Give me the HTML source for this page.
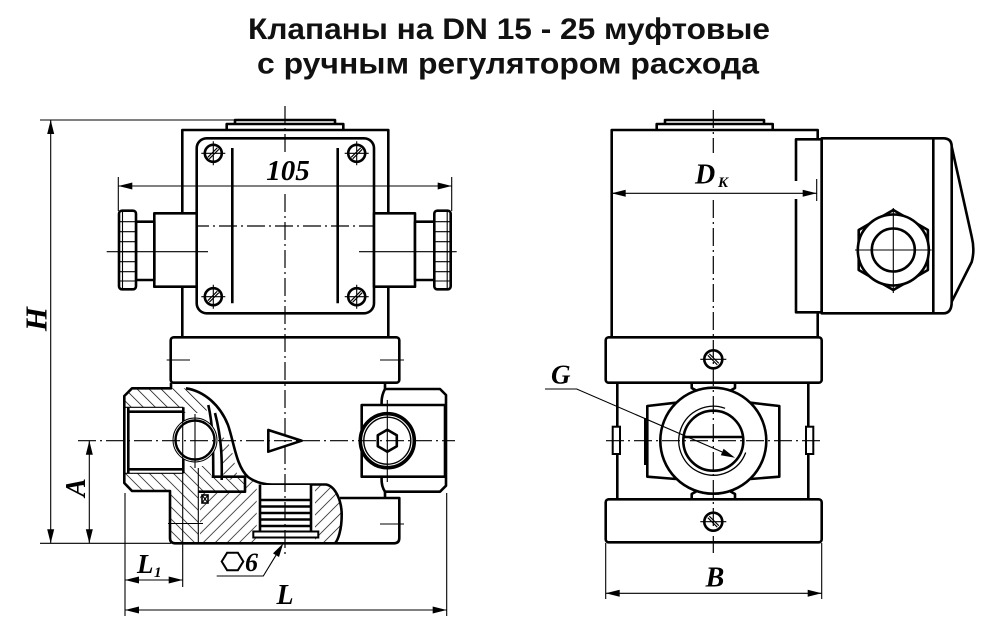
<!DOCTYPE html>
<html><head><meta charset="utf-8">
<style>
html,body{margin:0;padding:0;background:#fff;}
svg{display:block;}
.t{fill:none;stroke:#000;stroke-width:2.6;stroke-linejoin:round;}
.w{fill:#fff;stroke:#000;stroke-width:2.6;stroke-linejoin:round;}
.n{fill:none;stroke:#000;stroke-width:1.1;}
.c{fill:none;stroke:#000;stroke-width:1.2;stroke-dasharray:18 4 2 4;}
.a{fill:#000;stroke:none;}
.lbl{font-family:"Liberation Serif",serif;font-style:italic;font-weight:bold;fill:#000;}
.ttl{font-family:"Liberation Sans","Noto Sans CJK SC",sans-serif;font-weight:bold;font-size:30px;fill:#111;}
</style></head><body>
<svg width="1000" height="633" viewBox="0 0 1000 633" xmlns="http://www.w3.org/2000/svg">
<defs>
<pattern id="hs" width="8.5" height="8.5" patternUnits="userSpaceOnUse" patternTransform="rotate(-45)"><line x1="0" y1="0" x2="0" y2="8.5" stroke="#000" stroke-width="1.4"/></pattern>
<pattern id="hf" width="8.5" height="8.5" patternUnits="userSpaceOnUse" patternTransform="rotate(45)"><line x1="0" y1="0" x2="0" y2="8.5" stroke="#000" stroke-width="1.4"/></pattern>
</defs>
<rect width="1000" height="633" fill="#fff"/>

<!-- Title -->
<text class="ttl" x="248" y="39" textLength="522" lengthAdjust="spacingAndGlyphs">Клапаны на DN 15 - 25 муфтовые</text>
<text class="ttl" x="257" y="73.5" textLength="502" lengthAdjust="spacingAndGlyphs">с ручным регулятором расхода</text>

<!-- ============ LEFT VIEW ============ -->
<rect class="t" x="182.3" y="130" width="206" height="207.3"/>
<path class="t" d="M226.7,130 V124 H343.3 V130"/>
<path class="t" d="M235,124 V120 H335 V124"/>
<rect class="t" x="196.7" y="138.3" width="177.3" height="175" rx="10"/>
<line class="t" x1="232.3" y1="148" x2="232.3" y2="303.3"/>
<line class="t" x1="337.7" y1="148" x2="337.7" y2="303.3"/>
<line class="c" x1="191" y1="226" x2="379" y2="226"/>

<g>
<circle class="t" cx="213.3" cy="153.3" r="8.5" stroke-width="2.4"/>
<path class="n" stroke-width="1.5" d="M207.8,157.3 L217.3,147.8 M209.3,158.8 L218.8,149.3 M201.3,153.3 H225.3 M213.3,141.3 V165.3"/>
<circle class="t" cx="356.7" cy="153.3" r="8.5" stroke-width="2.4"/>
<path class="n" stroke-width="1.5" d="M351.2,157.3 L360.7,147.8 M352.7,158.8 L362.2,149.3 M344.7,153.3 H368.7 M356.7,141.3 V165.3"/>
<circle class="t" cx="213.3" cy="296.7" r="8.5" stroke-width="2.4"/>
<path class="n" stroke-width="1.5" d="M207.8,300.7 L217.3,291.2 M209.3,302.2 L218.8,292.7 M201.3,296.7 H225.3 M213.3,284.7 V308.7"/>
<circle class="t" cx="356.7" cy="296.7" r="8.5" stroke-width="2.4"/>
<path class="n" stroke-width="1.5" d="M351.2,300.7 L360.7,291.2 M352.7,302.2 L362.2,292.7 M344.7,296.7 H368.7 M356.7,284.7 V308.7"/>
</g>

<rect class="w" x="154.3" y="213.3" width="42.4" height="73.4"/>
<rect class="w" x="136" y="221.7" width="18.3" height="58.3"/>
<rect class="w" x="119" y="210.7" width="17" height="78.6" rx="3"/>
<path class="n" stroke-width="1.8" d="M122.5,212 V288 M119,221.7 H136 M119,231.7 H136 M119,241.7 H136 M119,251.7 H136 M119,261.7 H136 M119,271.7 H136 M119,281 H136"/>
<rect class="w" x="374" y="213.3" width="41" height="73.4"/>
<rect class="w" x="415" y="221.7" width="19.3" height="58.3"/>
<rect class="w" x="434.3" y="210.7" width="16.4" height="78.6" rx="3"/>
<path class="n" stroke-width="1.8" d="M447.2,212 V288 M434.3,221.7 H450.7 M434.3,231.7 H450.7 M434.3,241.7 H450.7 M434.3,251.7 H450.7 M434.3,261.7 H450.7 M434.3,271.7 H450.7 M434.3,281 H450.7"/>
<line class="n" x1="106.7" y1="251.7" x2="208" y2="251.7"/>
<line class="n" x1="359" y1="251.7" x2="456.7" y2="251.7"/>

<line class="n" x1="118.3" y1="177" x2="118.3" y2="211"/>
<line class="n" x1="451.7" y1="177" x2="451.7" y2="211"/>
<line class="n" x1="118.3" y1="186" x2="451.7" y2="186"/>
<polygon class="a" points="118.3,186 132.3,182.5 132.3,189.5"/>
<polygon class="a" points="451.7,186 437.7,182.5 437.7,189.5"/>
<text class="lbl" x="288" y="180" font-size="29" text-anchor="middle">105</text>

<rect class="w" x="170.7" y="337.3" width="228.6" height="45.4" rx="3"/>
<path class="n" d="M166.7,360 H190 M380,360 H404"/>

<path fill="url(#hs)" d="M124.3,396 L132,388.3 H186 C196,390 203,396 208.3,405 L206,413 H183.3 V407.3 H124.3 Z"/>
<path fill="url(#hs)" d="M124.3,473.3 H183.3 V466 H208 L211.7,476.7 H245 V491.7 H198.3 V543.3 H175.3 Q170,543.3 170,538 V491 H132 L124.3,483 Z"/>
<path fill="url(#hf)" d="M200,491.7 H245 L248,477 C252,481 255,483 256.7,483.5 V543.3 H200 Z"/>
<path fill="url(#hf)" d="M315,484.5 H326 C335,486 341.7,500 341.7,515 C341.7,530 338,540 335,543.3 H315 Z"/>
<path fill="url(#hf)" d="M221.7,436 C228,440 233,450 235,465 L238,478 L224,481 C222,465 222,450 221.7,436 Z"/>

<path class="t" d="M171,382.7 V388.3 H132 L124.3,396 V483 L132,491 H170 V538 Q170,543.3 175.3,543.3 H394 Q399.3,543.3 399.3,538 V498 H340"/>
<path class="t" d="M385,382.7 V389 H440 L446,395 V485.7 L440,491.7 H385 V498"/>
<path class="t" d="M385,389 Q381,396 381.7,405 M381.7,476.7 Q381,486 385,491.7"/>
<path class="t" d="M186,388.3 C204,391 220,405 228,425 C234,442 236,466 248,477 C255,482 263,484.5 272,484.5 H326 C335,486 341.7,500 341.7,515 C341.7,530 338,540 335,543.3"/>
<path class="n" stroke-width="1.4" d="M124.3,407.3 H183.3 M124.3,473.3 H183.3"/>
<path class="t" d="M128.3,407.3 V473.3 M128.3,411.7 H183.3 M128.3,469.3 H183.3 M183.3,407.3 V473.3"/>
<line class="n" stroke-width="1.6" x1="198.3" y1="468" x2="198.3" y2="543.3"/>
<path class="t" d="M211.7,476.7 H245 V491.7 H198.3"/>
<path class="t" d="M208.3,405 C214,430 213,455 213.3,476.7 M215,413 C222,440 222,460 221.7,480"/>
<rect x="202" y="495" width="6" height="8" fill="#fff" stroke="#000" stroke-width="1.6"/>
<path class="n" d="M202,495 L208,503 M208,495 L202,503"/>
<rect x="260" y="485" width="51" height="46.5" fill="#fff"/>
<path class="t" stroke-width="3" d="M260,484.5 V531.5 M311,484.5 V531.5"/>
<path class="t" stroke-width="2.2" d="M260,500 H311 M260,506.5 H311 M260,513 H311 M260,519.5 H311 M260,526 H311"/>
<rect x="253.3" y="531.5" width="65" height="6" fill="#fff" stroke="#000" stroke-width="2"/>
<circle cx="195" cy="440" r="22" fill="#fff" stroke="#000" stroke-width="1"/>
<circle cx="195" cy="440" r="19.5" fill="#fff" stroke="#000" stroke-width="2.4"/>
<line class="n" x1="195" y1="414" x2="195" y2="468"/>
<polygon class="t" points="268.3,430 268.3,451.7 301.7,440.7"/>
<rect class="w" x="361.7" y="405" width="83.3" height="71.7"/>
<circle cx="387.3" cy="440.7" r="27" fill="#fff" stroke="#000" stroke-width="3.6"/>
<circle cx="387.3" cy="440.7" r="23.5" fill="none" stroke="#000" stroke-width="1.4"/>
<polygon class="t" stroke-width="2.2" points="387.3,429.7 396.8,435.2 396.8,446.2 387.3,451.7 377.8,446.2 377.8,435.2"/>
<line class="n" x1="387.3" y1="400" x2="387.3" y2="482"/>
<path class="n" d="M168,523.5 H203 M380,524 H404"/>

<line class="c" x1="285" y1="106" x2="285" y2="153"/>
<line class="c" x1="285" y1="194" x2="285" y2="556"/>
<line class="c" x1="78" y1="440.7" x2="455" y2="440.7"/>

<line class="n" x1="40" y1="120" x2="237" y2="120"/>
<line class="n" x1="40" y1="543.3" x2="171" y2="543.3"/>
<line class="n" x1="50.7" y1="120" x2="50.7" y2="543.3"/>
<polygon class="a" points="50.7,120 47.2,134 54.2,134"/>
<polygon class="a" points="50.7,543.3 47.2,529.3 54.2,529.3"/>
<text class="lbl" font-size="31" text-anchor="middle" transform="translate(46.5,319) rotate(-90)">H</text>
<line class="n" x1="89.3" y1="440.7" x2="89.3" y2="543.3"/>
<polygon class="a" points="89.3,440.7 85.8,454.7 92.8,454.7"/>
<polygon class="a" points="89.3,543.3 85.8,529.3 92.8,529.3"/>
<text class="lbl" font-size="28" text-anchor="middle" transform="translate(85,487.5) rotate(-90)">A</text>
<line class="n" x1="125" y1="493" x2="125" y2="616"/>
<line class="n" x1="182.7" y1="410" x2="182.7" y2="587"/>
<line class="n" x1="446.7" y1="493" x2="446.7" y2="616"/>
<line class="n" x1="125" y1="580" x2="182.7" y2="580"/>
<polygon class="a" points="125,580 139,576.5 139,583.5"/>
<polygon class="a" points="182.7,580 168.7,576.5 168.7,583.5"/>
<text class="lbl" x="137" y="573" font-size="27">L</text>
<text class="lbl" x="154" y="577" font-size="15">1</text>
<line class="n" x1="125" y1="610" x2="446.7" y2="610"/>
<polygon class="a" points="125,610 139,606.5 139,613.5"/>
<polygon class="a" points="446.7,610 432.7,606.5 432.7,613.5"/>
<text class="lbl" x="285" y="604" font-size="28" text-anchor="middle">L</text>
<polygon fill="none" stroke="#000" stroke-width="2" points="221.7,561.5 227.1,552.8 237.9,552.8 243.3,561.5 237.9,570.2 227.1,570.2"/>
<text class="lbl" x="245" y="571" font-size="26">6</text>
<path class="n" d="M216.7,576 H263.3 L276,555.2"/>
<polygon class="a" points="283.3,543.3 279,557 273,553.4"/>

<!-- ============ RIGHT VIEW ============ -->
<rect class="t" x="611.7" y="130" width="206" height="207.3"/>
<path class="t" d="M656.7,130 V124 H772.7 V130"/>
<path class="t" d="M665,124 V120 H764 V124"/>
<rect class="w" x="796" y="139.3" width="25.7" height="173"/>
<rect x="793" y="181" width="6" height="18" fill="#fff"/>
<line class="n" x1="816.7" y1="179" x2="816.7" y2="201"/>
<rect class="w" x="821.7" y="138.3" width="111.6" height="175"/>
<path class="t" d="M933.3,138.3 H943.3 Q951.7,138.3 951.7,146.7 V301.7 Q951.7,313.3 943.3,313.3 H933.3"/>
<path class="t" d="M951.7,146.7 L971.7,236.7 Q975,250 971.7,262 L951.7,301.7"/>
<polygon class="t" points="893.3,210 927.9,230 927.9,270 893.3,290 858.7,270 858.7,230"/>
<circle class="w" cx="893.3" cy="250" r="35.5"/>
<circle class="t" cx="893.3" cy="250" r="21.5"/>
<path class="n" d="M855,250 H931.7 M893.3,208 V293"/>
<line class="n" x1="611.7" y1="193.3" x2="816.7" y2="193.3"/>
<polygon class="a" points="611.7,193.3 625.7,189.8 625.7,196.8"/>
<polygon class="a" points="816.7,193.3 802.7,189.8 802.7,196.8"/>
<text class="lbl" x="695" y="183.3" font-size="28">D</text>
<text class="lbl" x="718" y="187" font-size="15">K</text>

<path class="t" d="M617.3,382.7 V499.3 M808.3,382.7 V499.3"/>
<path class="t" d="M676,402.7 L647.3,406 V476.7 L676,479"/>
<path class="t" d="M750.6,402.7 L779.3,406 V476.7 L750.6,479"/>
<line x1="646" y1="418" x2="646" y2="465" stroke="#000" stroke-width="4"/>
<rect x="612.7" y="426.7" width="7.3" height="27.3" fill="#fff" stroke="#000" stroke-width="2"/>
<rect x="806" y="426.7" width="7.3" height="27.3" fill="#fff" stroke="#000" stroke-width="2"/>
<path class="t" d="M691.7,382.7 V388 L697,391 M735,382.7 V388 L729.6,391 M691.7,499.3 V494 L697,491 M735,499.3 V494 L729.6,491"/>
<circle class="w" cx="713.3" cy="440.7" r="53"/>
<circle class="t" cx="713.3" cy="440.7" r="30"/>
<path fill="none" stroke="#000" stroke-width="1.3" d="M745.7,452.5 A34.5,34.5 0 1 1 725.1,408.3"/>
<line x1="683.5" y1="437" x2="743" y2="437" stroke="#000" stroke-width="2.6"/>
<rect class="w" x="605.7" y="337.3" width="216" height="45.4" rx="3"/>
<rect class="w" x="605.7" y="499.3" width="216" height="43" rx="3"/>
<circle class="t" cx="713.3" cy="359.3" r="9" stroke-width="2.4"/>
<path class="n" stroke-width="1.5" d="M707.8,355.3 L717.3,364.8 M709.3,353.8 L718.8,363.3 M700.3,359.3 H726.3"/>
<circle class="t" cx="713.3" cy="521.7" r="9" stroke-width="2.4"/>
<path class="n" stroke-width="1.5" d="M707.8,517.7 L717.3,527.2 M709.3,516.2 L718.8,525.7 M700.3,521.7 H726.3"/>

<line class="c" x1="713.3" y1="110" x2="713.3" y2="153"/>
<line class="c" x1="713.3" y1="200" x2="713.3" y2="553"/>
<line class="c" x1="606" y1="440.7" x2="820" y2="440.7"/>

<text class="lbl" x="551" y="383.3" font-size="27">G</text>
<path class="n" d="M545,389 H576.7 L722.2,452"/>
<polygon class="a" points="735,457.7 720.8,455.2 723.6,448.8"/>

<line class="n" x1="605.7" y1="543" x2="605.7" y2="599"/>
<line class="n" x1="821.7" y1="543" x2="821.7" y2="599"/>
<line class="n" x1="605.7" y1="593.3" x2="821.7" y2="593.3"/>
<polygon class="a" points="605.7,593.3 619.7,589.8 619.7,596.8"/>
<polygon class="a" points="821.7,593.3 807.7,589.8 807.7,596.8"/>
<text class="lbl" x="715" y="586.7" font-size="28" text-anchor="middle">B</text>
</svg>
</body></html>
